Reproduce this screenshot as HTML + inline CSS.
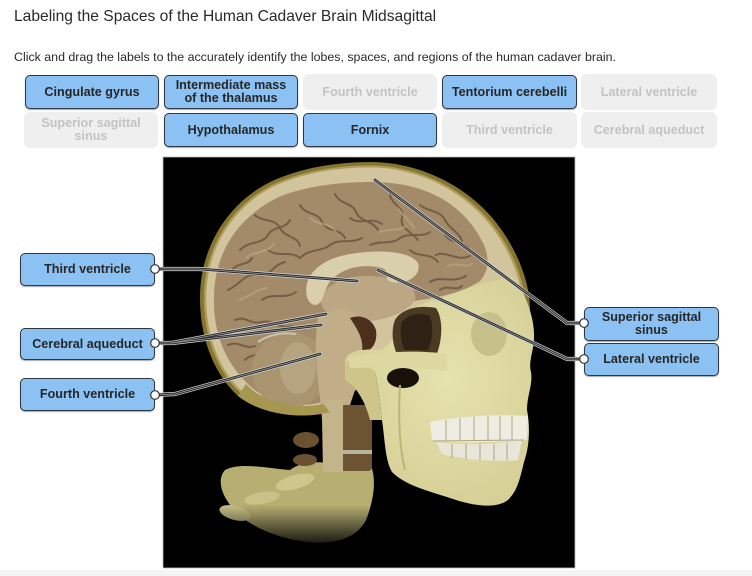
<!DOCTYPE html>
<html><head><meta charset="utf-8">
<style>
html,body{margin:0;padding:0;background:#fff;}
body{width:752px;height:576px;position:relative;overflow:hidden;font-family:"Liberation Sans",Arial,sans-serif;}
.t{position:absolute;left:14px;top:8px;font-size:15.6px;color:#2a2a2a;white-space:nowrap;}
.s{position:absolute;left:14px;top:50px;font-size:12.4px;color:#2a2a2a;white-space:nowrap;}
.b,.g{position:absolute;box-sizing:border-box;display:flex;align-items:center;justify-content:center;text-align:center;font-weight:bold;font-size:12.6px;line-height:13px;white-space:nowrap;}
.b{background:#8bc2f3;border:1px solid #2f3740;border-radius:5px;color:#262626;box-shadow:0 1px 1px rgba(0,0,0,.35);z-index:3;}
.g{background:#efefef;border-radius:6px;color:#c3c3c3;}
svg{position:absolute;left:0;top:0;}
</style></head><body>
<div class="t">Labeling the Spaces of the Human Cadaver Brain Midsagittal</div>
<div class="s">Click and drag the labels to the accurately identify the lobes, spaces, and regions of the human cadaver brain.</div>

<div class="b" style="left:25px;top:75px;width:134px;height:34px;">Cingulate gyrus</div>
<div class="b" style="left:164px;top:75px;width:134px;height:34px;">Intermediate mass<br>of the thalamus</div>
<div class="g" style="left:303px;top:74px;width:134px;height:36px;">Fourth ventricle</div>
<div class="b" style="left:442px;top:75px;width:135px;height:34px;">Tentorium cerebelli</div>
<div class="g" style="left:581px;top:74px;width:136px;height:36px;">Lateral ventricle</div>

<div class="g" style="left:24px;top:112px;width:134px;height:36px;">Superior sagittal<br>sinus</div>
<div class="b" style="left:164px;top:113px;width:134px;height:34px;">Hypothalamus</div>
<div class="b" style="left:303px;top:113px;width:134px;height:34px;">Fornix</div>
<div class="g" style="left:442px;top:112px;width:135px;height:36px;">Third ventricle</div>
<div class="g" style="left:581px;top:112px;width:136px;height:36px;">Cerebral aqueduct</div>

<svg width="752" height="576" viewBox="0 0 752 576" style="z-index:1">
<defs>
<linearGradient id="fade" x1="0" y1="0" x2="0" y2="1">
<stop offset="0" stop-color="#000" stop-opacity="0"/>
<stop offset="1" stop-color="#000" stop-opacity="1"/>
</linearGradient>
<radialGradient id="face" cx="0.55" cy="0.45" r="0.7">
<stop offset="0" stop-color="#e6e2ae"/>
<stop offset="1" stop-color="#d3cc92"/>
</radialGradient>
</defs>
<rect x="163" y="157" width="412" height="411" fill="#000" stroke="#bbb" stroke-width="0.8"/>
<rect x="0" y="570" width="752" height="6" fill="#f4f4f4"/>

<!-- cranium layers -->
<path d="M372,162 C430,163 480,195 505,235 C520,258 530,285 530,310 L440,320 L330,412 C300,420 262,414 238,396 C212,372 200,335 200,298 C200,250 225,205 270,182 C300,168 335,162 372,162 Z" fill="#85752f"/>
<path d="M372,162 C430,163 480,195 505,235 C520,258 530,285 530,310 L440,320 L330,412 C300,420 262,414 238,396 C212,372 200,335 200,298 C200,250 225,205 270,182 C300,168 335,162 372,162 Z" fill="#ad9d5c" transform="translate(355,295) scale(0.975) translate(-355,-295)"/>
<path d="M372,162 C430,163 480,195 505,235 C520,258 530,285 530,310 L440,320 L330,412 C300,420 262,414 238,396 C212,372 200,335 200,298 C200,250 225,205 270,182 C300,168 335,162 372,162 Z" fill="#d2c49c" transform="translate(355,295) scale(0.96) translate(-355,-295)"/>

<!-- brain -->
<path d="M372,182 C428,182 466,206 484,245 C490,260 488,272 480,281 C462,293 440,297 420,300 C395,304 370,312 350,322 C335,330 325,345 323,360 L322,402 C295,410 262,400 246,382 C222,358 213,328 214,296 C215,250 240,215 281,196 C307,186 340,182 372,182 Z" fill="#a38a68"/>
<g fill="none" stroke="#65503a" stroke-width="2" stroke-linecap="round" opacity="0.75">
<path d="M240,250 C250,240 262,245 268,235 C274,225 285,230 290,220"/>
<path d="M228,290 C240,285 245,272 258,275 C270,278 272,265 285,262"/>
<path d="M300,205 C305,215 318,212 322,222 C326,232 340,228 345,238"/>
<path d="M335,194 C340,205 352,202 356,212 C360,222 372,220 378,230"/>
<path d="M390,195 C392,205 405,208 402,218 C399,228 412,232 418,240"/>
<path d="M420,205 C428,212 440,210 445,220 C450,230 460,232 462,242"/>
<path d="M255,215 C262,222 275,218 280,228 C285,238 298,236 300,246"/>
<path d="M300,258 C310,248 322,252 330,245 C340,238 352,244 362,238"/>
<path d="M370,245 C380,240 392,245 400,238 C410,232 422,238 430,232"/>
<path d="M436,255 C446,250 456,262 470,256"/>
<path d="M430,282 C440,275 452,284 466,276"/>
<path d="M235,320 C245,315 250,325 262,322 C274,319 280,330 292,326"/>
<path d="M228,345 C238,340 245,350 255,346"/>
<path d="M262,300 C272,292 285,300 296,292"/>
<path d="M350,218 C360,226 370,216 382,224"/>
<path d="M268,250 C278,258 290,250 300,258"/>
<path d="M232,270 C238,262 248,266 252,258"/>
<path d="M445,235 C452,245 465,240 470,250"/>
<path d="M410,250 C418,258 430,252 438,262"/>
<path d="M440,290 C448,284 456,292 462,286"/>
<path d="M245,360 C252,352 262,358 268,350"/>
</g>
<g fill="none" stroke="#c2ab86" stroke-width="2" stroke-linecap="round" opacity="0.6">
<path d="M246,258 C256,250 266,254 274,244"/>
<path d="M310,218 C318,226 330,222 336,232"/>
<path d="M398,208 C402,216 410,220 414,228"/>
<path d="M240,300 C250,296 256,290 266,288"/>
<path d="M380,232 C390,228 398,232 406,226"/>
<path d="M448,266 C456,262 464,268 472,264"/>
</g>

<!-- corpus callosum & thalamus -->
<path d="M320,300 C325,285 345,275 370,276 C400,277 418,285 415,300 C405,315 380,322 355,322 C335,322 322,312 320,300 Z" fill="#bba783"/>
<path d="M307,297 C302,276 320,259 350,254 C380,249 410,251 418,263 C422,276 406,285 392,282 C382,280 392,272 382,268 C362,263 340,268 329,283 C323,293 323,303 316,305 C311,305 308,301 307,297 Z" fill="#dacfab"/>

<!-- cerebellum -->
<ellipse cx="290" cy="370" rx="38" ry="38" fill="#a8946f"/>
<ellipse cx="298" cy="368" rx="18" ry="26" fill="#b6a481"/>
<path d="M258,342 C268,335 282,332 296,334" stroke="#c9c4b5" stroke-width="2" fill="none"/>

<!-- brainstem -->
<path d="M318,318 C335,304 362,308 366,330 C370,360 352,392 346,420 L344,472 L323,472 L322,420 C320,390 312,350 318,318 Z" fill="#c1ad87"/>
<path d="M350,318 C360,314 372,318 376,330 C378,345 370,352 362,352 C364,340 358,330 350,318 Z" fill="#4c2f1d"/>

<!-- vertebrae -->
<path d="M225,470 C240,462 265,468 290,470 C300,462 320,460 335,465 L368,460 C378,475 374,500 366,520 C356,540 330,546 300,541 C270,536 240,522 228,502 C220,490 218,478 225,470 Z" fill="#b7ae72"/>
<ellipse cx="235" cy="513" rx="16" ry="7" fill="#c7bf86" transform="rotate(15 235 513)"/>
<ellipse cx="262" cy="498" rx="18" ry="6" fill="#c9c188" transform="rotate(-10 262 498)"/>
<ellipse cx="295" cy="482" rx="20" ry="7" fill="#cec68d" transform="rotate(-15 295 482)"/>
<rect x="340" y="405" width="32" height="66" rx="4" fill="#6c5331"/>
<rect x="340" y="450" width="32" height="4" fill="#b8b49a"/>
<ellipse cx="306" cy="440" rx="13" ry="8" fill="#6a5230"/>
<ellipse cx="305" cy="460" rx="12" ry="6" fill="#6a5230"/>
<rect x="323" y="400" width="20" height="72" fill="#c4b48c"/>
<rect x="210" y="505" width="180" height="45" fill="url(#fade)"/>

<!-- occipital bone lower -->
<path d="M238,396 C260,414 300,420 330,412 L323,404 C295,410 262,402 246,384 Z" fill="#a59650"/>

<!-- face skull -->
<path d="M437,300 C460,290 490,280 513,277 C525,292 535,318 534,338 C534,350 528,362 531,372 C533,385 527,395 527,410 C530,425 530,445 524,462 C520,478 518,490 508,500 C495,510 470,505 450,498 C425,490 405,485 392,472 C385,460 385,440 382,420 C380,400 378,385 375,372 C368,365 355,363 345,362 C345,352 360,348 380,350 C392,345 398,330 405,318 C415,305 425,302 437,300 Z" fill="url(#face)"/>
<path d="M345,362 C355,362 368,365 375,372 C378,385 380,400 382,420 L370,420 C365,400 355,385 345,380 Z" fill="#cdc589"/>
<path d="M395,320 C402,308 420,305 436,308 C444,320 442,342 436,356 L398,356 C392,345 391,330 395,320 Z" fill="#4a3a22"/>
<path d="M402,322 C408,314 420,312 430,316 C434,328 432,342 428,350 L405,350 C400,342 400,330 402,322 Z" fill="#2e2214"/>
<path d="M348,358 C380,351 420,350 447,354 L447,371 C420,367 388,367 350,368 Z" fill="#ddd8a2"/>
<ellipse cx="403" cy="378" rx="16" ry="10" fill="#17110a"/>
<ellipse cx="489" cy="334" rx="18" ry="22" fill="#c6c18a"/>
<path d="M400,385 C398,420 400,450 405,470" stroke="#bdb578" stroke-width="2" fill="none"/>

<!-- teeth -->
<path d="M430,422 C460,416 500,414 528,416 L527,440 C500,442 460,444 432,440 Z" fill="#efede2"/>
<path d="M436,442 C465,446 500,444 522,440 L518,460 C495,462 465,460 442,454 Z" fill="#e8e6d8"/>
<g stroke="#a9a387" stroke-width="1" fill="none">
<path d="M433,441 L524,440"/>
<path d="M446,420 L446,440 M460,418 L460,440 M474,417 L474,440 M488,416 L488,441 M500,416 L500,441 M512,416 L512,440"/>
<path d="M452,444 L452,458 M466,444 L466,459 M480,444 L480,460 M494,444 L494,460 M507,443 L507,460"/>
</g>

<!-- connectors -->
<g fill="none" stroke-linejoin="round" stroke-linecap="round">
<g stroke="#d9d9d9" stroke-width="4.2">
<polyline points="155,269 200,269 357,281"/>
<polyline points="155,343 172,343 326,314"/>
<polyline points="172,343 321,325"/>
<polyline points="155,395 175,394 320,354"/>
<polyline points="584,323 567,323 375,180"/>
<polyline points="584,359 567,359 378,270"/>
</g>
<g stroke="#2a2a2a" stroke-width="2.8">
<polyline points="155,269 200,269 357,281"/>
<polyline points="155,343 172,343 326,314"/>
<polyline points="172,343 321,325"/>
<polyline points="155,395 175,394 320,354"/>
<polyline points="584,323 567,323 375,180"/>
<polyline points="584,359 567,359 378,270"/>
</g>
<g stroke="#9a9a9a" stroke-width="0.8">
<polyline points="155,269 200,269 357,281"/>
<polyline points="155,343 172,343 326,314"/>
<polyline points="172,343 321,325"/>
<polyline points="155,395 175,394 320,354"/>
<polyline points="584,323 567,323 375,180"/>
<polyline points="584,359 567,359 378,270"/>
</g>
</g>
</svg>

<div class="b" style="left:20px;top:253px;width:135px;height:33px;">Third ventricle</div>
<div class="b" style="left:20px;top:328px;width:135px;height:32px;">Cerebral aqueduct</div>
<div class="b" style="left:20px;top:378px;width:135px;height:33px;">Fourth ventricle</div>
<div class="b" style="left:584px;top:307px;width:135px;height:34px;">Superior sagittal<br>sinus</div>
<div class="b" style="left:584px;top:343px;width:135px;height:33px;">Lateral ventricle</div>

<svg width="752" height="576" viewBox="0 0 752 576" style="z-index:4;pointer-events:none">
<g fill="#fff" stroke="#333" stroke-width="1.2">
<circle cx="155" cy="269" r="4.3"/>
<circle cx="155" cy="343" r="4.3"/>
<circle cx="155" cy="395" r="4.3"/>
<circle cx="584" cy="323" r="4.3"/>
<circle cx="584" cy="359" r="4.3"/>
</g>
</svg>
</body></html>
